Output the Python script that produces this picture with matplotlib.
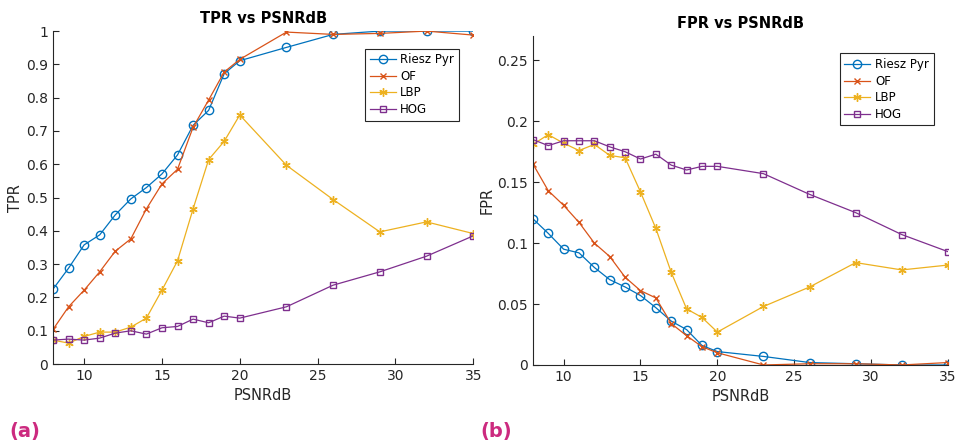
import numpy as np
import matplotlib
matplotlib.use("Agg")
import matplotlib.pyplot as plt

psnr = [8, 9, 10, 11, 12, 13, 14, 15, 16, 17, 18, 19, 20, 23, 26, 29, 32, 35]

tpr_riesz = [0.225, 0.288, 0.358, 0.388, 0.448, 0.496, 0.530, 0.571, 0.628, 0.717, 0.762, 0.872, 0.911, 0.951, 0.990, 1.0, 1.0, 1.0]
tpr_of = [0.104, 0.172, 0.222, 0.277, 0.339, 0.376, 0.466, 0.541, 0.585, 0.711, 0.793, 0.877, 0.915, 0.997, 0.990, 0.993, 1.0, 0.988]
tpr_lbp = [0.072, 0.063, 0.083, 0.096, 0.096, 0.111, 0.138, 0.222, 0.310, 0.466, 0.614, 0.669, 0.748, 0.597, 0.494, 0.397, 0.427, 0.392]
tpr_hog = [0.072, 0.075, 0.072, 0.078, 0.093, 0.100, 0.090, 0.109, 0.113, 0.135, 0.124, 0.144, 0.138, 0.172, 0.237, 0.277, 0.324, 0.385]

fpr_riesz = [0.120, 0.108, 0.095, 0.092, 0.080, 0.070, 0.064, 0.057, 0.047, 0.036, 0.029, 0.016, 0.011, 0.007, 0.002, 0.001, 0.0, 0.0]
fpr_of = [0.165, 0.143, 0.131, 0.117, 0.100, 0.089, 0.072, 0.061, 0.055, 0.034, 0.024, 0.015, 0.010, 0.0, 0.001, 0.001, 0.0, 0.002]
fpr_lbp = [0.181, 0.189, 0.182, 0.176, 0.181, 0.172, 0.170, 0.142, 0.112, 0.076, 0.046, 0.039, 0.027, 0.048, 0.064, 0.084, 0.078, 0.082]
fpr_hog = [0.185, 0.180, 0.184, 0.184, 0.184, 0.179, 0.175, 0.169, 0.173, 0.164, 0.160, 0.163, 0.163, 0.157, 0.140, 0.125, 0.107, 0.093]

names = ['Riesz Pyr', 'OF', 'LBP', 'HOG']
cols = ['#0072BD', '#D95319', '#EDB120', '#7E2F8E']
asterisk = (6, 2, 0)
marks = [dict(marker='o', ms=6, mfc='none'),
         dict(marker='x', ms=4.5),
         dict(marker=asterisk, ms=6),
         dict(marker='s', ms=5, mfc='none')]

fig = plt.figure(figsize=(9.55, 4.44), dpi=100)
ax1 = fig.add_axes([0.0555, 0.180, 0.440, 0.750])
ax2 = fig.add_axes([0.558, 0.178, 0.4346, 0.741])


def style(ax, title, ylabel, ylim, yticks, ytl):
    for s in ['top', 'right']:
        ax.spines[s].set_visible(False)
    for s in ['left', 'bottom']:
        ax.spines[s].set_color('#262626')
        ax.spines[s].set_linewidth(0.8)
    ax.set_xlim(8, 35)
    ax.set_ylim(*ylim)
    ax.set_xticks([10, 15, 20, 25, 30, 35])
    ax.set_yticks(yticks)
    ax.set_yticklabels(ytl)
    ax.tick_params(direction='in', length=4, labelsize=10, colors='#262626', width=0.8)
    ax.set_title(title, fontsize=10.5, fontweight='bold', pad=6)
    ax.set_xlabel('PSNRdB', fontsize=10.5, color='#262626')
    ax.set_ylabel(ylabel, fontsize=10.5, color='#262626', labelpad=2)
    ax.legend(loc='upper right', bbox_to_anchor=(0.98, 0.965), fontsize=8.5, fancybox=False,
              edgecolor='#262626', framealpha=1, handlelength=2.2, borderpad=0.4,
              labelspacing=0.3, handletextpad=0.4)
    ax.get_legend().get_frame().set_linewidth(0.8)


for ys, c, m, n in zip([tpr_riesz, tpr_of, tpr_lbp, tpr_hog], cols, marks, names):
    ax1.plot(psnr, ys, color=c, lw=0.9, label=n, mec=c, **m)
for ys, c, m, n in zip([fpr_riesz, fpr_of, fpr_lbp, fpr_hog], cols, marks, names):
    ax2.plot(psnr, ys, color=c, lw=0.9, label=n, mec=c, **m)

t1 = np.round(np.arange(0, 1.01, 0.1), 1)
style(ax1, 'TPR vs PSNRdB', 'TPR', (0, 1), t1, ['0'] + [f'{v:g}' for v in t1[1:]])
t2 = [0, 0.05, 0.1, 0.15, 0.2, 0.25]
style(ax2, 'FPR vs PSNRdB', 'FPR', (0, 0.27), t2, ['0', '0.05', '0.1', '0.15', '0.2', '0.25'])

fig.text(0.010, 0.015, '(a)', fontsize=14, fontweight='bold', color='#cc2a7f')
fig.text(0.503, 0.015, '(b)', fontsize=14, fontweight='bold', color='#cc2a7f')

fig.savefig('out.png', dpi=100)
